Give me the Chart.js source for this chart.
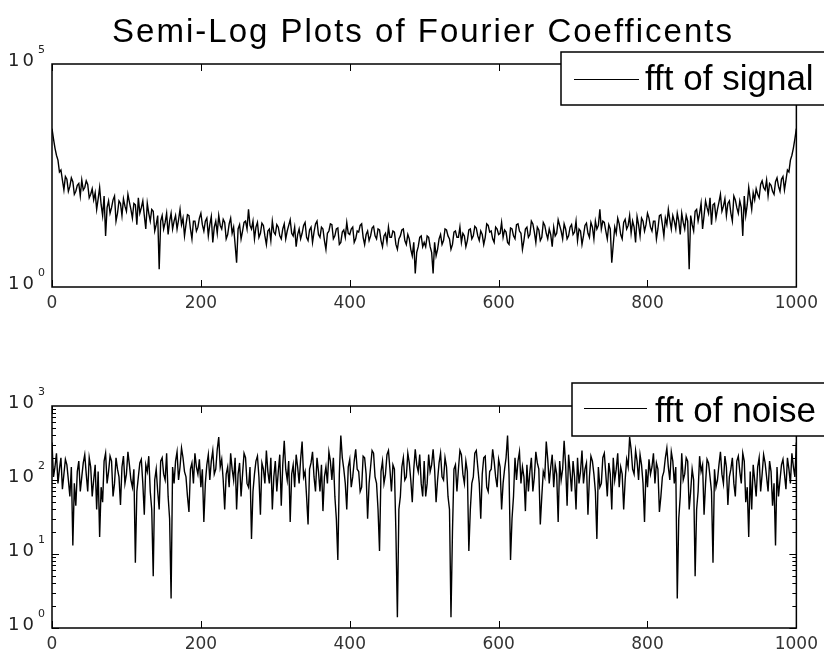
<!DOCTYPE html>
<html>
<head>
<meta charset="utf-8">
<script src="https://cdn.jsdelivr.net/npm/chart.js@4/dist/chart.umd.min.js"></script>
<style>
  html, body { margin: 0; padding: 0; background: #fff; }
  #wrap { position: relative; width: 824px; height: 654px; overflow: hidden; }
  canvas { position: absolute; left: 0; }
</style>
</head>
<body>
<div id="wrap">
  <canvas id="signalChart" width="824" height="327" style="top:0"></canvas>
  <canvas id="noiseChart" width="824" height="327" style="top:327px"></canvas>
</div>
<script>
var titleText = 'Semi-Log Plots of Fourier Coefficents';
var xTicks = [0, 200, 400, 600, 800, 1000];
var step = 2; // one value read every 2 coefficients

// |fft| of the signal (x = 0, 2, ..., 1000)
var signalFft = [
  3550, 2100, 1300, 900, 700, 380, 420, 250, 150, 300, 260, 140, 180, 280, 230, 120, 140, 190, 210, 110,
  250, 150, 170, 240, 200, 100, 120, 160, 90, 130, 55, 95, 170, 70, 40, 110, 14, 60, 85, 45,
  60, 90, 110, 30, 45, 85, 75, 40, 95, 65, 50, 120, 80, 55, 35, 75, 70, 25, 100, 45,
  60, 85, 40, 20, 75, 45, 30, 55, 50, 18, 25, 40, 2.5, 30, 40, 20, 28, 45, 15, 30,
  45, 20, 30, 40, 20, 32, 55, 25, 35, 14, 25, 42, 40, 20, 12, 30, 30, 18, 22, 35,
  45, 25, 18, 30, 35, 14, 25, 38, 10, 22, 30, 16, 40, 24, 20, 33, 28, 12, 15, 26,
  35, 16, 22, 9, 3.5, 20, 25, 12, 18, 28, 30, 20, 55, 24, 20, 30, 12, 22, 28, 13,
  16, 27, 24, 14, 9, 18, 20, 11, 30, 17, 15, 25, 22, 14, 12, 20, 26, 12, 18, 24,
  32, 16, 14, 22, 8, 15, 20, 12, 16, 24, 28, 13, 11, 19, 22, 10, 17, 26, 30, 15,
  13, 22, 20, 11, 7, 16, 18, 26, 25, 12, 14, 20, 21, 9, 10, 17, 19, 13, 28, 16,
  15, 20, 22, 10, 12, 18, 17, 24, 26, 13, 9, 15, 18, 11, 14, 21, 23, 14, 12, 20,
  19, 11, 8, 14, 16, 10, 22, 13, 13, 18, 17, 9, 7, 12, 14, 19, 20, 11, 9, 15,
  12, 7, 5, 10, 2, 6, 8, 13, 14, 8, 10,
  8, 14, 13, 8, 6, 2, 10, 5, 7, 12,
  15, 9, 11, 20, 19, 14, 12, 7, 9, 17, 18, 13, 13, 22, 10, 16, 14, 8, 11, 19,
  20, 12, 14, 23, 21, 14, 11, 18, 15, 9, 13, 26, 24, 17, 18, 12, 10, 22, 20, 15,
  16, 28, 13, 19, 17, 10, 9, 21, 20, 14, 12, 25, 26, 18, 16, 7, 11, 20, 22, 13,
  15, 30, 26, 17, 10, 22, 19, 11, 13, 28, 24, 16, 12, 20, 15, 8, 22, 14, 16, 32,
  24, 18, 12, 26, 20, 12, 14, 22, 25, 15, 17, 30, 11, 20, 18, 9, 14, 24, 27, 16,
  13, 28, 22, 12, 30, 20, 24, 55, 20, 30, 28, 18, 12, 25, 20, 3.5, 9, 22, 16, 35,
  26, 15, 12, 28, 33, 20, 24, 40, 16, 30, 22, 10, 38, 25, 14, 35, 30, 18, 25, 45,
  35, 22, 18, 30, 30, 12, 20, 40, 42, 25, 14, 35, 25, 55, 32, 20, 40, 30, 20, 45,
  30, 15, 45, 28, 20, 40, 30, 2.5, 40, 25, 18, 50, 55, 30, 45, 75, 20, 40, 85, 60,
  45, 100, 25, 70, 75, 35, 55, 80, 120, 50, 65, 95, 40, 75, 85, 45, 30, 110, 90, 60,
  45, 85, 60, 14, 110, 40, 70, 170, 95, 55, 130, 90, 160, 120, 100, 200, 240, 170, 150, 250,
  110, 210, 190, 140, 120, 230, 280, 180, 140, 260, 300, 150, 250, 420, 380, 700, 900, 1300, 2100, 3550
];

// |fft| of the noise (x = 0, 2, ..., 1000)
var noiseFft = [
  320, 110, 150, 230, 90, 140, 200, 75, 120, 190, 160, 100, 60, 150, 13, 90, 45, 130, 180, 70,
  110, 170, 220, 120, 70, 200, 150, 60, 100, 160, 40, 130, 17, 80, 50, 180, 230, 90, 130, 210,
  180, 60, 90, 200, 140, 110, 46, 150, 210, 90, 120, 240, 160, 100, 80, 140, 7.6, 70, 110, 170,
  190, 90, 34, 160, 130, 210, 70, 40, 5, 100, 140, 70, 40, 180, 200, 120, 100, 230, 60, 30,
  2.5, 150, 90, 180, 240, 100, 150, 270, 200, 130, 110, 60, 37, 140, 170, 90, 230, 150, 120, 190,
  80, 140, 27, 90, 160, 220, 100, 180, 250, 120, 140, 260, 380, 150, 190, 100, 40, 120, 150, 80,
  230, 140, 100, 200, 40, 120, 170, 60, 120, 230, 200, 90, 80, 150, 16, 70, 120, 180, 210, 110,
  34, 170, 140, 90, 250, 130, 90, 200, 40, 110, 180, 70, 130, 220, 45, 160, 340, 140, 100, 180,
  27, 120, 160, 80, 220, 150, 90, 190, 330, 110, 130, 60, 25, 140, 170, 240, 110, 70, 200, 130,
  70, 160, 38, 110, 150, 90, 240, 180, 100, 200, 60, 30, 8.3, 120, 400, 200, 140, 90, 40, 150,
  190, 80, 110, 180, 260, 140, 130, 70, 80, 210, 200, 120, 30, 90, 150, 250, 230, 110, 90, 40,
  11, 130, 180, 90, 120, 220, 250, 140, 70, 160, 140, 20, 1.4, 40, 60, 150, 200, 100, 110, 230,
  170, 100, 50, 140, 260, 160, 130, 220, 90, 60, 180,
  60, 90, 220, 130, 160, 260, 140, 50, 100, 170,
  230, 110, 100, 200, 150, 60, 40, 1.4, 20, 140, 160, 70, 140, 250, 220, 120, 90, 180, 130, 11,
  40, 90, 110, 230, 250, 150, 90, 30, 120, 200, 210, 80, 70, 130, 140, 260, 180, 110, 80, 190,
  150, 40, 90, 140, 200, 400, 120, 8.3, 30, 60, 200, 100, 180, 240, 90, 150, 110, 38, 160, 70,
  130, 200, 70, 110, 240, 170, 140, 25, 60, 130, 110, 330, 190, 90, 150, 220, 80, 160, 120, 27,
  180, 100, 140, 340, 160, 45, 220, 130, 70, 180, 110, 40, 200, 90, 130, 250, 90, 140, 170, 34,
  110, 210, 180, 120, 70, 16, 150, 80, 90, 200, 230, 120, 60, 170, 120, 40, 200, 100, 140, 230,
  80, 150, 120, 40, 100, 190, 150, 380, 260, 140, 120, 250, 180, 100, 220, 160, 90, 27, 140, 80,
  190, 120, 150, 230, 90, 170, 140, 37, 60, 110, 130, 200, 270, 150, 100, 240, 180, 90, 150, 2.5,
  30, 60, 230, 100, 120, 200, 180, 40, 70, 140, 100, 5, 40, 70, 210, 130, 160, 34, 90, 190,
  170, 110, 70, 7.6, 140, 80, 100, 160, 240, 120, 90, 210, 150, 46, 110, 140, 200, 90, 60, 180,
  210, 130, 90, 230, 180, 50, 80, 17, 130, 40, 160, 100, 60, 150, 200, 70, 120, 220, 170, 110,
  70, 180, 130, 45, 90, 13, 150, 60, 100, 160, 190, 120, 75, 200, 140, 90, 230, 150, 110, 320
];

var signalDecades = [0, 5];
var noiseDecades = [0, 1, 2, 3];

// frame, inward ticks, 10^n labels, boxed legend and title, matlab style
var axesDecor = {
  id: 'axesDecor',
  afterDraw: function (chart, args, o) {
    var ctx = chart.ctx, a = chart.chartArea;
    var xs = chart.scales.x, ys = chart.scales.y;
    ctx.save();
    ctx.strokeStyle = '#000';
    ctx.lineWidth = 1.5;
    ctx.strokeRect(a.left, a.top, a.right - a.left, a.bottom - a.top);

    ctx.lineWidth = 1;
    ctx.beginPath();
    xTicks.forEach(function (v) {
      var px = Math.round(xs.getPixelForValue(v)) + 0.5;
      ctx.moveTo(px, a.top); ctx.lineTo(px, a.top + 7);
      ctx.moveTo(px, a.bottom); ctx.lineTo(px, a.bottom - 7);
    });
    if (o.minor) {
      var last = o.decades[o.decades.length - 1];
      for (var e = 0; e < last; e++) {
        for (var m = 1; m <= 9; m++) {
          var py = Math.round(ys.getPixelForValue(m * Math.pow(10, e))) + 0.5;
          var len = m === 1 ? 7 : 4;
          ctx.moveTo(a.left, py); ctx.lineTo(a.left + len, py);
          ctx.moveTo(a.right, py); ctx.lineTo(a.right - len, py);
        }
      }
    }
    ctx.stroke();

    ctx.fillStyle = '#222';
    ctx.textBaseline = 'middle';
    o.decades.forEach(function (e) {
      var py = ys.getPixelForValue(Math.pow(10, e));
      ctx.textAlign = 'left';
      ctx.font = '18px "DejaVu Sans"';
      ctx.letterSpacing = '3px';
      ctx.fillText('10', 8, py - 3);
      ctx.letterSpacing = '0px';
      ctx.font = '11px "DejaVu Sans"';
      ctx.fillText(String(e), 38, py - 14);
    });

    var lg = o.legend;
    ctx.fillStyle = '#fff';
    ctx.fillRect(lg.x, lg.y, lg.w, lg.h);
    ctx.lineWidth = 1.5;
    ctx.strokeRect(lg.x, lg.y, lg.w, lg.h);
    ctx.lineWidth = 1;
    ctx.beginPath();
    ctx.moveTo(lg.lineFrom, lg.lineY + 0.5);
    ctx.lineTo(lg.lineTo, lg.lineY + 0.5);
    ctx.stroke();
    ctx.fillStyle = '#000';
    ctx.textAlign = 'left';
    ctx.textBaseline = 'alphabetic';
    ctx.font = '35px "Liberation Sans"';
    ctx.fillText(o.label, lg.textX, lg.textY);

    if (o.title) {
      ctx.textAlign = 'center';
      ctx.font = '33px "Liberation Sans"';
      ctx.letterSpacing = '2px';
      ctx.fillText(o.title, 423, 42);
      ctx.letterSpacing = '0px';
    }
    ctx.restore();
  }
};

function points(values) {
  return values.map(function (v, i) { return { x: i * step, y: v }; });
}

function makeChart(id, values, yMax, opts) {
  return new Chart(document.getElementById(id), {
    type: 'line',
    data: {
      datasets: [{
        label: opts.label,
        data: points(values),
        borderColor: '#000',
        borderWidth: 1.4,
        pointRadius: 0,
        tension: 0,
        fill: false
      }]
    },
    options: {
      responsive: false,
      animation: false,
      devicePixelRatio: 1,
      layout: { padding: { left: 52, right: 27, top: opts.padTop, bottom: 0 } },
      plugins: {
        legend: { display: false },
        tooltip: { enabled: false },
        axesDecor: opts
      },
      scales: {
        x: {
          type: 'linear',
          min: 0,
          max: 1000,
          afterBuildTicks: function (s) {
            s.ticks = xTicks.map(function (v) { return { value: v }; });
          },
          afterFit: function (s) { s.height = opts.axisHeight; },
          grid: { display: false, drawTicks: false },
          border: { display: false },
          ticks: {
            padding: 6,
            autoSkip: false,
            maxRotation: 0,
            color: '#333',
            font: { family: 'DejaVu Sans', size: 17 },
            callback: function (v) { return String(v); }
          }
        },
        y: { type: 'logarithmic', min: 1, max: yMax, display: false }
      }
    },
    plugins: [axesDecor]
  });
}

makeChart('signalChart', signalFft, 1e5, {
  label: 'fft of signal',
  title: titleText,
  decades: signalDecades,
  minor: false,
  padTop: 64,
  axisHeight: 40,
  legend: { x: 561, y: 52, w: 290, h: 53, lineFrom: 574, lineTo: 639, lineY: 79, textX: 645, textY: 90 }
});

makeChart('noiseChart', noiseFft, 1e3, {
  label: 'fft of noise',
  title: '',
  decades: noiseDecades,
  minor: true,
  padTop: 79,
  axisHeight: 26,
  legend: { x: 572, y: 56, w: 290, h: 53, lineFrom: 584, lineTo: 647, lineY: 81, textX: 655, textY: 95 }
});
</script>
</body>
</html>
